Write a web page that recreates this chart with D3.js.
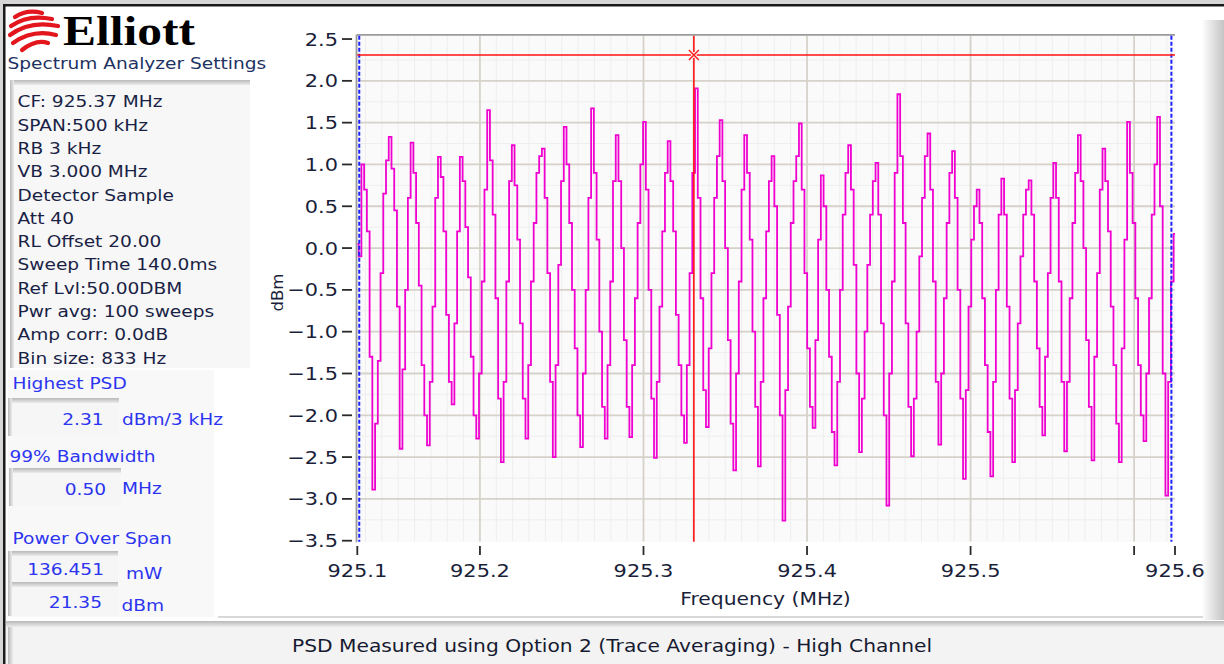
<!DOCTYPE html>
<html>
<head>
<meta charset="utf-8">
<script src="https://cdn.jsdelivr.net/npm/d3@7"></script>
<style>
  html, body { margin: 0; padding: 0; background: #fff; overflow: hidden; }
  svg { display: block; }
</style>
</head>
<body>
<svg id="chart" width="1224" height="664"></svg>
<script>
// ---- Measurement data -------------------------------------------------------
// Sweep span (MHz): CF 925.375 MHz, span 500 kHz
const sweepStart = 925.125;
const sweepStop = 925.625;

// Averaged trace (dBm / 3 kHz), evenly spaced across the sweep
const traceDbm = [
  0.05, -0.10, 1.00, 0.70, 0.20, -1.30, -2.89, -2.10, -1.35, -0.30,
  0.65, 1.05, 1.33, 0.95, 0.45, -0.70, -2.40, -1.45, -0.50, 0.60,
  1.26, 0.90, 0.30, -0.45, -1.40, -2.00, -2.36, -1.60, -0.70, 0.60,
  1.09, 0.85, 0.20, -0.80, -1.60, -1.87, -0.90, 0.20, 1.09, 0.80,
  0.25, -0.35, -1.30, -2.00, -2.28, -1.50, -0.40, 0.70, 1.65, 1.05,
  0.40, -0.60, -1.80, -2.56, -1.60, -0.40, 0.80, 1.23, 0.75, 0.10,
  -0.90, -1.80, -2.28, -1.40, -0.40, 0.30, 0.90, 1.10, 1.19, 0.60,
  -0.30, -1.60, -2.50, -1.40, -0.20, 0.80, 1.45, 1.00, 0.30, -0.50,
  -1.20, -2.00, -2.38, -1.50, -0.50, 0.60, 1.67, 0.90, 0.10, -1.00,
  -1.90, -2.28, -1.40, -0.40, 0.80, 1.35, 0.80, 0.00, -1.10, -1.90,
  -2.26, -1.40, -0.60, 0.30, 1.00, 1.51, 0.70, -0.50, -1.80, -2.51,
  -1.60, -0.70, 0.20, 0.90, 1.28, 0.80, 0.20, -0.80, -1.40, -2.00,
  -2.33, -1.40, -0.30, 0.90, 1.91, 0.60, -0.60, -1.70, -2.14, -1.20,
  -0.30, 0.60, 1.10, 1.53, 0.80, 0.00, -1.10, -2.10, -2.66, -1.50,
  -0.40, 0.70, 1.35, 0.90, 0.10, -1.00, -1.90, -2.61, -1.60, -0.60,
  0.20, 0.80, 1.10, 0.50, -0.80, -2.00, -3.26, -1.70, -0.70, 0.30,
  0.80, 1.10, 1.49, 0.70, -0.30, -1.20, -1.90, -2.15, -1.10, 0.10,
  0.87, 0.50, -0.50, -1.30, -2.20, -2.60, -1.60, -0.50, 0.40, 0.90,
  1.23, 0.70, -0.20, -1.50, -2.44, -1.80, -1.00, -0.20, 0.40, 0.80,
  1.02, 0.40, -0.90, -2.00, -3.08, -1.50, -0.40, 0.90, 1.84, 1.10,
  0.30, -0.90, -1.90, -2.49, -1.80, -1.00, -0.10, 0.60, 1.10, 1.37,
  0.70, -0.40, -1.60, -2.35, -1.50, -0.60, 0.30, 0.90, 1.16, 0.60,
  -0.50, -1.80, -2.76, -1.70, -0.70, 0.10, 0.50, 0.70, 0.30, -0.60,
  -1.40, -2.20, -2.73, -1.60, -0.50, 0.40, 0.83, 0.40, -0.70, -1.80,
  -2.56, -1.70, -0.90, -0.10, 0.40, 0.70, 0.81, 0.40, -0.40, -1.20,
  -1.90, -2.24, -1.30, -0.30, 0.60, 1.02, 0.60, -0.40, -1.60, -2.43,
  -1.60, -0.60, 0.30, 0.90, 1.35, 0.80, 0.00, -1.10, -1.90, -2.54,
  -1.30, -0.30, 0.70, 1.19, 0.80, 0.20, -0.70, -1.40, -2.10, -2.56,
  -1.20, 0.10, 1.51, 0.90, 0.30, -0.60, -1.40, -2.00, -2.31, -1.50,
  -0.60, 0.40, 1.00, 1.57, 0.50, -1.50, -2.96, -1.60, -0.40, 0.17
];

// Markers
const highestPsd = 2.31;          // dBm / 3 kHz
const highestPsdFreq = 925.3308;  // MHz
const obwEdges = [925.1262, 925.6228]; // 99% occupied bandwidth edges, MHz

// Axes
const yDomain = [-3.5, 2.54];
const yTicks = [-3.5, -3.0, -2.5, -2.0, -1.5, -1.0, -0.5, 0.0, 0.5, 1.0, 1.5, 2.0, 2.5];
const yGrid = [-3.0, -2.5, -2.0, -1.5, -1.0, -0.5, 0.0, 0.5, 1.0, 1.5, 2.0];
const xTicks = [925.125, 925.2, 925.3, 925.4, 925.5, 925.6, 925.625];
const xTickLabels = ["925.1", "925.2", "925.3", "925.4", "925.5", "", "925.6"];
const xGrid = [925.2, 925.3, 925.4, 925.5, 925.6];

// Panel texts
const settingsLines = [
  "CF: 925.37 MHz", "SPAN:500 kHz", "RB 3 kHz", "VB 3.000 MHz", "Detector Sample",
  "Att 40", "RL Offset 20.00", "Sweep Time 140.0ms", "Ref Lvl:50.00DBM",
  "Pwr avg: 100 sweeps", "Amp corr: 0.0dB", "Bin size: 833 Hz"
];
const resultLabels = ["Highest PSD", "99% Bandwidth", "Power Over Span"];
const resultValues = ["2.31", "0.50", "136.451", "21.35"];
const resultUnits = ["dBm/3 kHz", "MHz", "mW", "dBm"];
const statusText = "PSD Measured using Option 2 (Trace Averaging) - High Channel";

// ---- Drawing ---------------------------------------------------------------
const svg = d3.select("#chart");
const UI_FONT = "'DejaVu Sans', Verdana, sans-serif";
const WIDEN = 1.16;   // UI text is drawn slightly wide

function widen(sel, k = WIDEN) {
  sel.each(function () {
    const w = this.getComputedTextLength();
    this.setAttribute("textLength", (w * k).toFixed(2));
    this.setAttribute("lengthAdjust", "spacingAndGlyphs");
  });
}

const defs = svg.append("defs");
function vGrad(id, stops) {
  const g = defs.append("linearGradient").attr("id", id).attr("x1", 0).attr("y1", 0).attr("x2", 0).attr("y2", 1);
  stops.forEach(([o, c]) => g.append("stop").attr("offset", o).attr("stop-color", c));
}
function hGrad(id, stops) {
  const g = defs.append("linearGradient").attr("id", id).attr("x1", 0).attr("y1", 0).attr("x2", 1).attr("y2", 0);
  stops.forEach(([o, c]) => g.append("stop").attr("offset", o).attr("stop-color", c));
}
vGrad("bevelTop", [[0, "#b8b8b8"], [1, "#ececec"]]);
hGrad("bevelLeft", [[0, "#b8b8b8"], [1, "#ececec"]]);
hGrad("rightShade", [[0, "#fbfbfb"], [1, "#c4c4c4"]]);

// window frame
svg.append("rect").attr("width", 1224).attr("height", 664).attr("fill", "#fff");
svg.append("rect").attr("x", 0).attr("y", 0).attr("width", 1224).attr("height", 4).attr("fill", "#d6d6d6");
svg.append("rect").attr("x", 0).attr("y", 0).attr("width", 3).attr("height", 664).attr("fill", "#d6d6d6");
svg.append("rect").attr("x", 3).attr("y", 4).attr("width", 1221).attr("height", 2.5).attr("fill", "#1a1a1a");
svg.append("rect").attr("x", 3).attr("y", 4).attr("width", 2.5).attr("height", 660).attr("fill", "#1a1a1a");
svg.append("rect").attr("x", 1203).attr("y", 20).attr("width", 21).attr("height", 600).attr("fill", "url(#rightShade)");

// sunken field helper
function sunken(x, y, w, h, fill) {
  svg.append("rect").attr("x", x).attr("y", y).attr("width", w).attr("height", h).attr("fill", fill);
  svg.append("rect").attr("x", x).attr("y", y).attr("width", w).attr("height", 5).attr("fill", "url(#bevelTop)");
  svg.append("rect").attr("x", x).attr("y", y).attr("width", 4).attr("height", h).attr("fill", "url(#bevelLeft)");
}

// ---- logo ----
const logo = svg.append("g").attr("fill", "none").attr("stroke", "#e3151d")
  .attr("stroke-width", 4.2).attr("stroke-linecap", "round");
[
  "M15,17 Q27,9 42,13",
  "M11,26 Q28,14 52,19",
  "M10,35 Q30,20 58,26",
  "M13,43 Q33,29 56,35",
  "M22,50 Q36,39 48,43"
].forEach(d => logo.append("path").attr("d", d));
svg.append("text").attr("x", 63).attr("y", 45)
  .attr("font-family", "'Liberation Serif', 'Times New Roman', serif")
  .attr("font-weight", "bold").attr("font-size", 42).attr("fill", "#000")
  .attr("textLength", 132).attr("lengthAdjust", "spacingAndGlyphs")
  .text("Elliott");

svg.append("text").attr("x", 7.5).attr("y", 69)
  .attr("font-family", UI_FONT).attr("font-size", 16).attr("fill", "#1d3262")
  .text("Spectrum Analyzer Settings").call(widen);

// ---- settings panel ----
sunken(10, 80, 240, 288, "#f7f7f7");
svg.append("g").selectAll("text").data(settingsLines).join("text")
  .attr("x", 17.5).attr("y", (d, i) => 107.3 + i * 23.3)
  .attr("font-family", UI_FONT).attr("font-size", 16).attr("fill", "#1a1f45")
  .text(d => d).call(widen);

// ---- results panel ----
svg.append("rect").attr("x", 8).attr("y", 370).attr("width", 206).attr("height", 247).attr("fill", "#f8f8f8");
sunken(8, 398, 111, 38, "#f6f6f6");
sunken(9, 468, 112, 38, "#f6f6f6");
sunken(8, 551, 110, 31, "#f6f6f6");
sunken(8, 582, 110, 34, "#f6f6f6");

const BLUE = "#2c34f0";
const labelY = [389, 461.5, 544];
const labelX = [12.5, 9.5, 12.5];
svg.append("g").selectAll("text").data(resultLabels).join("text")
  .attr("x", (d, i) => labelX[i]).attr("y", (d, i) => labelY[i])
  .attr("font-family", UI_FONT).attr("font-size", 16).attr("fill", BLUE)
  .text(d => d).call(widen);

const valueY = [425, 494.5, 575, 608];
const valueRight = [103.5, 106, 104, 102];
svg.append("g").selectAll("text").data(resultValues).join("text")
  .attr("x", (d, i) => valueRight[i]).attr("y", (d, i) => valueY[i])
  .attr("text-anchor", "end")
  .attr("font-family", UI_FONT).attr("font-size", 16).attr("fill", BLUE)
  .text(d => d).call(widen);

const unitX = [122, 122, 126, 121.5];
const unitY = [425, 494, 578.5, 610.5];
svg.append("g").selectAll("text").data(resultUnits).join("text")
  .attr("x", (d, i) => unitX[i]).attr("y", (d, i) => unitY[i])
  .attr("font-family", UI_FONT).attr("font-size", 16).attr("fill", BLUE)
  .text(d => d).call(widen);

// ---- status bar ----
svg.append("rect").attr("x", 218).attr("y", 616.5).attr("width", 985).attr("height", 1).attr("fill", "#b4b4b4");
svg.append("rect").attr("x", 6).attr("y", 621).attr("width", 1218).attr("height", 43).attr("fill", "#f3f3f3");
svg.append("rect").attr("x", 6).attr("y", 621).attr("width", 1218).attr("height", 6).attr("fill", "url(#bevelTop)");
svg.append("rect").attr("x", 8).attr("y", 627).attr("width", 5).attr("height", 37).attr("fill", "url(#bevelLeft)");
svg.append("text").attr("x", 612).attr("y", 651.5).attr("text-anchor", "middle")
  .attr("font-family", UI_FONT).attr("font-size", 17).attr("fill", "#161a30")
  .attr("textLength", 640).attr("lengthAdjust", "spacingAndGlyphs")
  .text(statusText);

// ---- graph ----
const plot = { left: 357.3, right: 1175, top: 35.7, bottom: 540.7 };
const x = d3.scaleLinear().domain([sweepStart, sweepStop]).range([plot.left, plot.right]);
const y = d3.scaleLinear().domain(yDomain).range([plot.bottom, plot.top]);

svg.append("rect").attr("x", plot.left).attr("y", plot.top)
  .attr("width", plot.right - plot.left).attr("height", plot.bottom + 1 - plot.top)
  .attr("fill", "#fafafa");

defs.append("clipPath").attr("id", "plotClip").append("rect")
  .attr("x", plot.left).attr("y", plot.top)
  .attr("width", plot.right - plot.left).attr("height", plot.bottom + 1 - plot.top);

const grid = svg.append("g").attr("clip-path", "url(#plotClip)");
// minor grid
const minorX = d3.range(925.13, 925.6251, 0.01).filter(v => !xGrid.some(g => Math.abs(g - v) < 1e-6));
grid.selectAll(".mx").data(minorX).join("line")
  .attr("x1", d => x(d)).attr("x2", d => x(d)).attr("y1", plot.top).attr("y2", plot.bottom + 1)
  .attr("stroke", "#eeeeee").attr("stroke-width", 1);
const minorY = d3.range(-3.25, 2.5, 0.5);
grid.selectAll(".my").data(minorY).join("line")
  .attr("x1", plot.left).attr("x2", plot.right).attr("y1", d => y(d)).attr("y2", d => y(d))
  .attr("stroke", "#eeeeee").attr("stroke-width", 1);
// major grid
grid.selectAll(".gx").data(xGrid).join("line")
  .attr("x1", d => x(d)).attr("x2", d => x(d)).attr("y1", plot.top).attr("y2", plot.bottom + 1)
  .attr("stroke", "#d6d2ca").attr("stroke-width", 1.8);
grid.selectAll(".gy").data(yGrid).join("line")
  .attr("x1", plot.left).attr("x2", plot.right).attr("y1", d => y(d)).attr("y2", d => y(d))
  .attr("stroke", "#d6d2ca").attr("stroke-width", 1.8);

// plot frame (left and top)
svg.append("line").attr("x1", plot.left - 0.8).attr("x2", plot.left - 0.8)
  .attr("y1", plot.top - 0.8).attr("y2", plot.bottom + 1.5)
  .attr("stroke", "#9a9a9a").attr("stroke-width", 1.8);
svg.append("line").attr("x1", plot.left - 0.8).attr("x2", plot.right)
  .attr("y1", plot.top - 0.8).attr("y2", plot.top - 0.8)
  .attr("stroke", "#9a9a9a").attr("stroke-width", 1.8);

// trace
const step = (sweepStop - sweepStart) / (traceDbm.length - 1);
const line = d3.line()
  .x((d, i) => x(sweepStart + i * step))
  .y(d => y(d))
  .curve(d3.curveStep);
svg.append("path").datum(traceDbm)
  .attr("clip-path", "url(#plotClip)")
  .attr("d", line)
  .attr("fill", "none").attr("stroke", "#f000d0").attr("stroke-width", 1.8)
  .attr("stroke-linejoin", "miter");

// 99% bandwidth cursors
svg.append("g").selectAll("line").data(obwEdges).join("line")
  .attr("x1", d => x(d)).attr("x2", d => x(d)).attr("y1", plot.top).attr("y2", plot.bottom + 1)
  .attr("stroke", "#1c22ff").attr("stroke-width", 2).attr("stroke-dasharray", "4,2");

// highest PSD cursor
svg.append("line").attr("x1", plot.left).attr("x2", plot.right)
  .attr("y1", y(highestPsd)).attr("y2", y(highestPsd))
  .attr("stroke", "#ff1010").attr("stroke-width", 1.6);
svg.append("line").attr("x1", x(highestPsdFreq)).attr("x2", x(highestPsdFreq))
  .attr("y1", plot.top).attr("y2", plot.bottom + 1)
  .attr("stroke", "#ff1010").attr("stroke-width", 1.6);
const mk = svg.append("g")
  .attr("transform", `translate(${x(highestPsdFreq)},${y(highestPsd)})`);
mk.append("circle").attr("r", 3).attr("fill", "#fff0f0");
mk.append("path").attr("d", "M-5,-5L5,5M-5,5L5,-5")
  .attr("fill", "none").attr("stroke", "#ff2020").attr("stroke-width", 1.5);

// y axis
const tickColor = "#2a2a2a";
const textColor = "#1b1f3a";
const yAxis = svg.append("g");
yAxis.selectAll("line").data(yTicks).join("line")
  .attr("x1", 342).attr("x2", 352).attr("y1", d => y(d)).attr("y2", d => y(d))
  .attr("stroke", tickColor).attr("stroke-width", 1.8);
yAxis.selectAll("text").data(yTicks).join("text")
  .attr("x", 338).attr("y", d => y(d) + 6.6).attr("text-anchor", "end")
  .attr("font-family", UI_FONT).attr("font-size", 18).attr("fill", textColor)
  .text(d => d3.format(".1f")(d)).call(widen);

// x axis
const xAxis = svg.append("g");
xAxis.selectAll("line").data(xTicks).join("line")
  .attr("x1", d => x(d)).attr("x2", d => x(d)).attr("y1", 546).attr("y2", 555)
  .attr("stroke", tickColor).attr("stroke-width", 1.8);
xAxis.selectAll("text").data(xTicks).join("text")
  .attr("x", d => x(d)).attr("y", 577).attr("text-anchor", "middle")
  .attr("font-family", UI_FONT).attr("font-size", 18).attr("fill", textColor)
  .text((d, i) => xTickLabels[i]).call(widen);

// axis titles
svg.append("text").attr("x", 765.5).attr("y", 605).attr("text-anchor", "middle")
  .attr("font-family", UI_FONT).attr("font-size", 17.5).attr("fill", textColor)
  .text("Frequency (MHz)").call(widen);
svg.append("text").attr("transform", "translate(283,292.5) rotate(-90)")
  .attr("text-anchor", "middle")
  .attr("font-family", UI_FONT).attr("font-size", 16.5).attr("fill", textColor)
  .text("dBm");
</script>
</body>
</html>
